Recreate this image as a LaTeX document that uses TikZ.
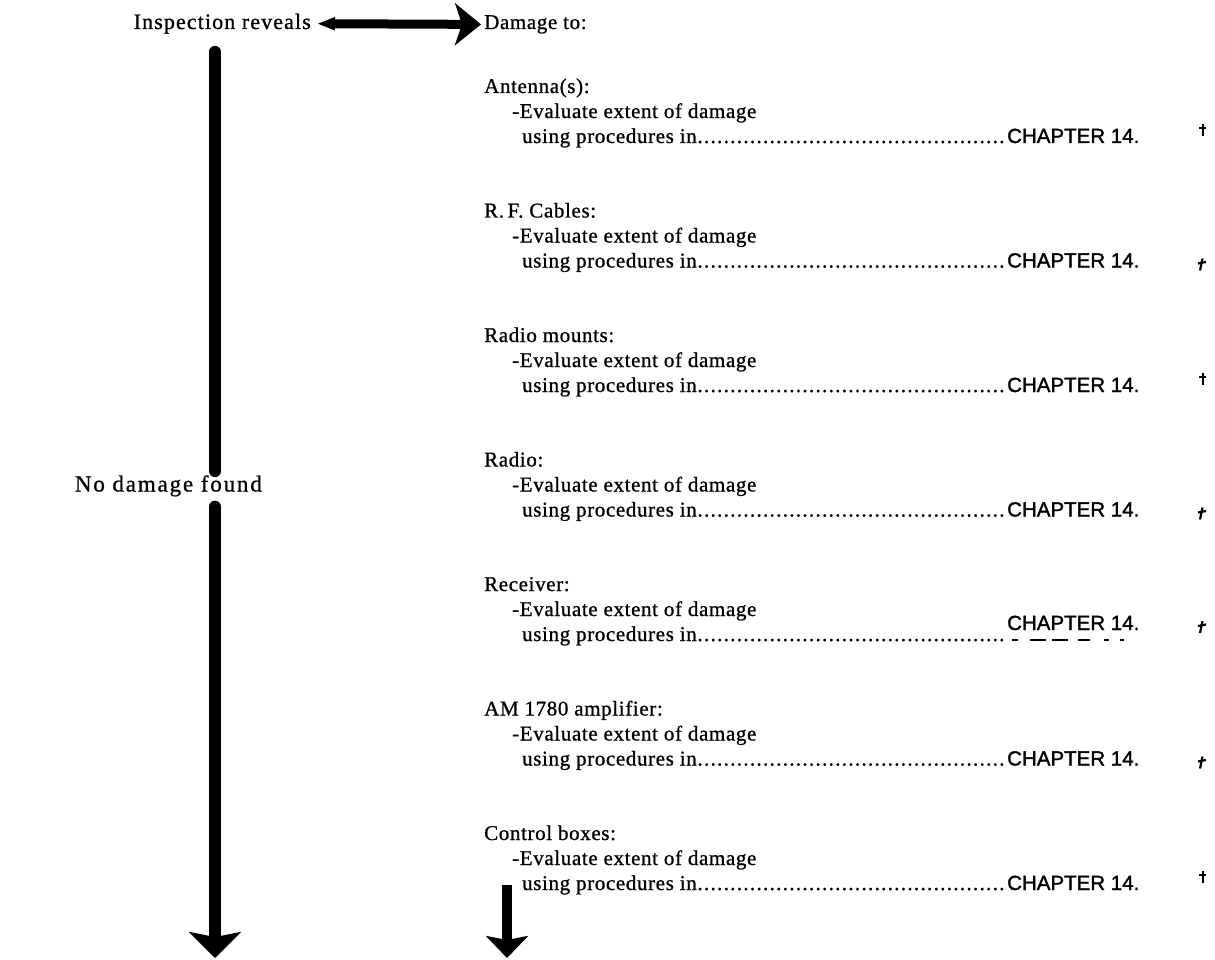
\documentclass[tikz,border=0pt]{standalone}
\usepackage{fontspec}
\setmainfont{Liberation Serif}[LetterSpace=3,FakeBold=0.9]
\newfontfamily\chapfont{Liberation Sans}[FakeBold=1.6]
\usetikzlibrary{arrows.meta,calc}

% text line that ends in a dot leader up to the chapter reference
\newcommand\usingline{\hbox to 483pt{using procedures in\xleaders\hbox to 6.5pt{\hss.\hss}\hfill}}

\begin{document}
\begin{tikzpicture}[x=1pt,y=-1pt,
  txt/.style={inner sep=0pt, anchor=base west, font=\fontsize{21}{25}\selectfont},
  chap/.style={inner sep=0pt, anchor=base west, font=\chapfont\fontsize{20.5}{24}\selectfont},
  bar/.style={line width=12pt, line cap=round},
  downhead/.style={-{Stealth[width=52pt,length=26pt,inset=5pt]}},
  edgemark/.style={line width=2.2pt}]
\useasboundingbox (0,0) rectangle (1215,960);

% top line
\node[txt, anchor=base east, font=\fontsize{22}{26}\selectfont\addfontfeature{LetterSpace=5}] (insp) at (311,29) {Inspection reveals};
\node[txt] (dmg) at (484,29) {Damage to:};
\draw[line width=9pt, {Triangle[width=12pt,length=18pt]}-{Stealth[width=42pt,length=26pt,inset=7pt]}]
  ([xshift=6pt]insp.east) -- ([xshift=-3pt]dmg.west);

% left branch
\coordinate (barx) at (215,0);
\node[txt, anchor=base east, font=\fontsize{23}{27}\selectfont\addfontfeature{LetterSpace=8}] (nodmg) at (262,491.5) {No damage found};
\coordinate (endL) at (215,958);
\draw[bar] ([yshift=-18pt]insp.south -| barx) -- ([yshift=4pt]nodmg.north -| barx);
\draw[bar, downhead] ([yshift=-10pt]nodmg.south -| barx) -- (endL);

% list of items
\foreach \item [count=\k] in {{Antenna(s):},{R.\,F. Cables:},{Radio mounts:},{Radio:},{Receiver:},{AM 1780 amplifier:},{Control boxes:}}{
  \pgfmathsetmacro\yb{93+124.5*(\k-1)}
  \node[txt] (h\k) at (484,\yb) {\item};
  \node[txt] (e\k) at (512,\yb+25) {-Evaluate extent of damage};
  \node[txt] (u\k) at (522,\yb+50) {\usingline};
  \ifnum\k=5
    \node[chap] (c\k) at (1007,\yb+39) {CHAPTER 14.};
  \else
    \node[chap] (c\k) at (1007,\yb+50) {CHAPTER 14.};
  \fi
}

% faint remnant under the raised reference
\foreach \a/\b in {1012/1018,1030/1046,1052/1068,1078/1090,1104/1109,1120/1124}
  \draw[line width=2pt] ($(c5.base west)+(\a-1007,10)$) -- ($(c5.base west)+(\b-1007,10)$);

% cut-off page marks at the right edge
\foreach \k in {1,3,7}
  \draw[edgemark] ($(c\k.base west)+(196,-19)$) -- ++(0,12) ($(c\k.base west)+(192,-15)$) -- ++(7,0);
\foreach \k in {2,4,5,6}
  \draw[edgemark] ($(c\k.base west)+(193,3)$) -- ++(2.5,-12) ($(c\k.base west)+(191,-4)$) -- ++(8,-1.5);

% continuation arrow under the last item
\coordinate (endR) at (507,958);
\draw[line width=10pt, -{Stealth[width=42pt,length=22pt,inset=4pt]}]
  ([yshift=10pt]u7.south west -| endR) -- (endR);
\end{tikzpicture}
\end{document}
